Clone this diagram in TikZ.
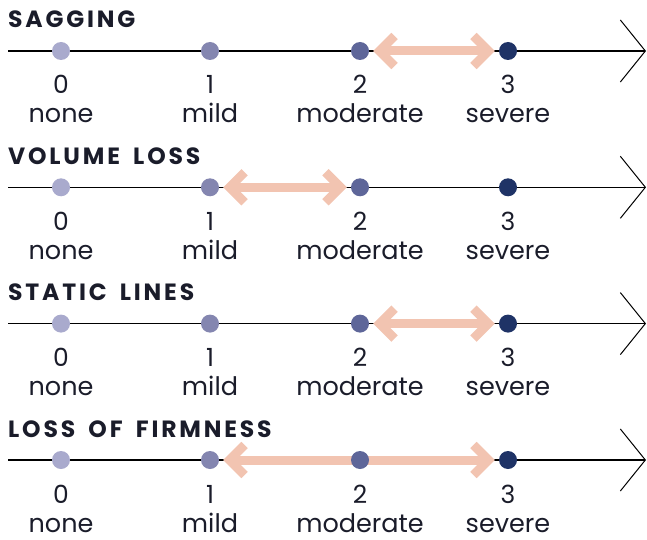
\documentclass[tikz,border=0pt]{standalone}
\usepackage{fontspec}
\setmainfont{Poppins}
\newfontfamily\titlefont[LetterSpace=12,WordSpace=1.7]{Poppins Bold}
\usetikzlibrary{arrows.meta}
\definecolor{c0}{HTML}{A9AACD}
\definecolor{c1}{HTML}{8486B0}
\definecolor{c2}{HTML}{5E6699}
\definecolor{c3}{HTML}{1F3366}
\definecolor{pinkarr}{HTML}{F2C4B1}
\definecolor{ink}{HTML}{1A1C2A}
\pgfdeclarelayer{axislayer}
\pgfdeclarelayer{rangelayer}
\pgfsetlayers{axislayer,rangelayer,main}
\tikzset{
  dot/.style={circle, inner sep=0pt, minimum size=18pt},
  axisline/.style={draw=black, line width=1.1pt, -{Straight Barb[length=25pt, width=62pt, line width=1pt]}},
  rangearrow/.style={draw=pinkarr, line width=9pt, {Straight Barb[length=15pt, width=30pt]}-{Straight Barb[length=15pt, width=30pt]}, shorten <=4pt, shorten >=4pt},
  numlbl/.style={anchor=base, font=\fontsize{25}{25}\selectfont, text=ink, inner sep=0pt},
  wordlbl/.style={anchor=base, font=\fontsize{25.5}{25.5}\selectfont, text=ink, inner sep=0pt},
  titlelbl/.style={anchor=base west, font=\titlefont\fontsize{23.5}{23.5}\selectfont, text=ink, inner sep=0pt}
}
\begin{document}
\begin{tikzpicture}[x=1pt,y=-1pt]
\useasboundingbox (0,0) rectangle (647,540);
\foreach \r/\name/\a/\b [count=\i] in {0/SAGGING/2/3, 136.3/VOLUME LOSS/1/2, 272.6/STATIC LINES/2/3, 409/LOSS OF FIRMNESS/1/3}{
  \node[titlelbl] (t\i) at (8,28+\r) {\name};
  \coordinate (s\i) at (8,51+\r);
  \coordinate (e\i) at (646,51+\r);
  \begin{pgfonlayer}{axislayer}
    \draw[axisline] (s\i) -- (e\i);
  \end{pgfonlayer}
  \foreach \k/\x/\w in {0/61/none,1/210/mild,2/360/moderate,3/508/severe}{
    \node[numlbl] (n\i-\k) at (\x,94+\r) {\k};
    \node[wordlbl] (w\i-\k) at (\x,123+\r) {\w};
  }
  \node[dot, fill=c0] (d\i-0) at (61,51+\r) {};
  \node[dot, fill=c1] (d\i-1) at (210,51+\r) {};
  \node[dot, fill=c2] (d\i-2) at (360,51+\r) {};
  \node[dot, fill=c3] (d\i-3) at (508,51+\r) {};
  \begin{pgfonlayer}{rangelayer}
    \draw[rangearrow] (d\i-\a) -- (d\i-\b);
  \end{pgfonlayer}
}
\end{tikzpicture}
\end{document}
